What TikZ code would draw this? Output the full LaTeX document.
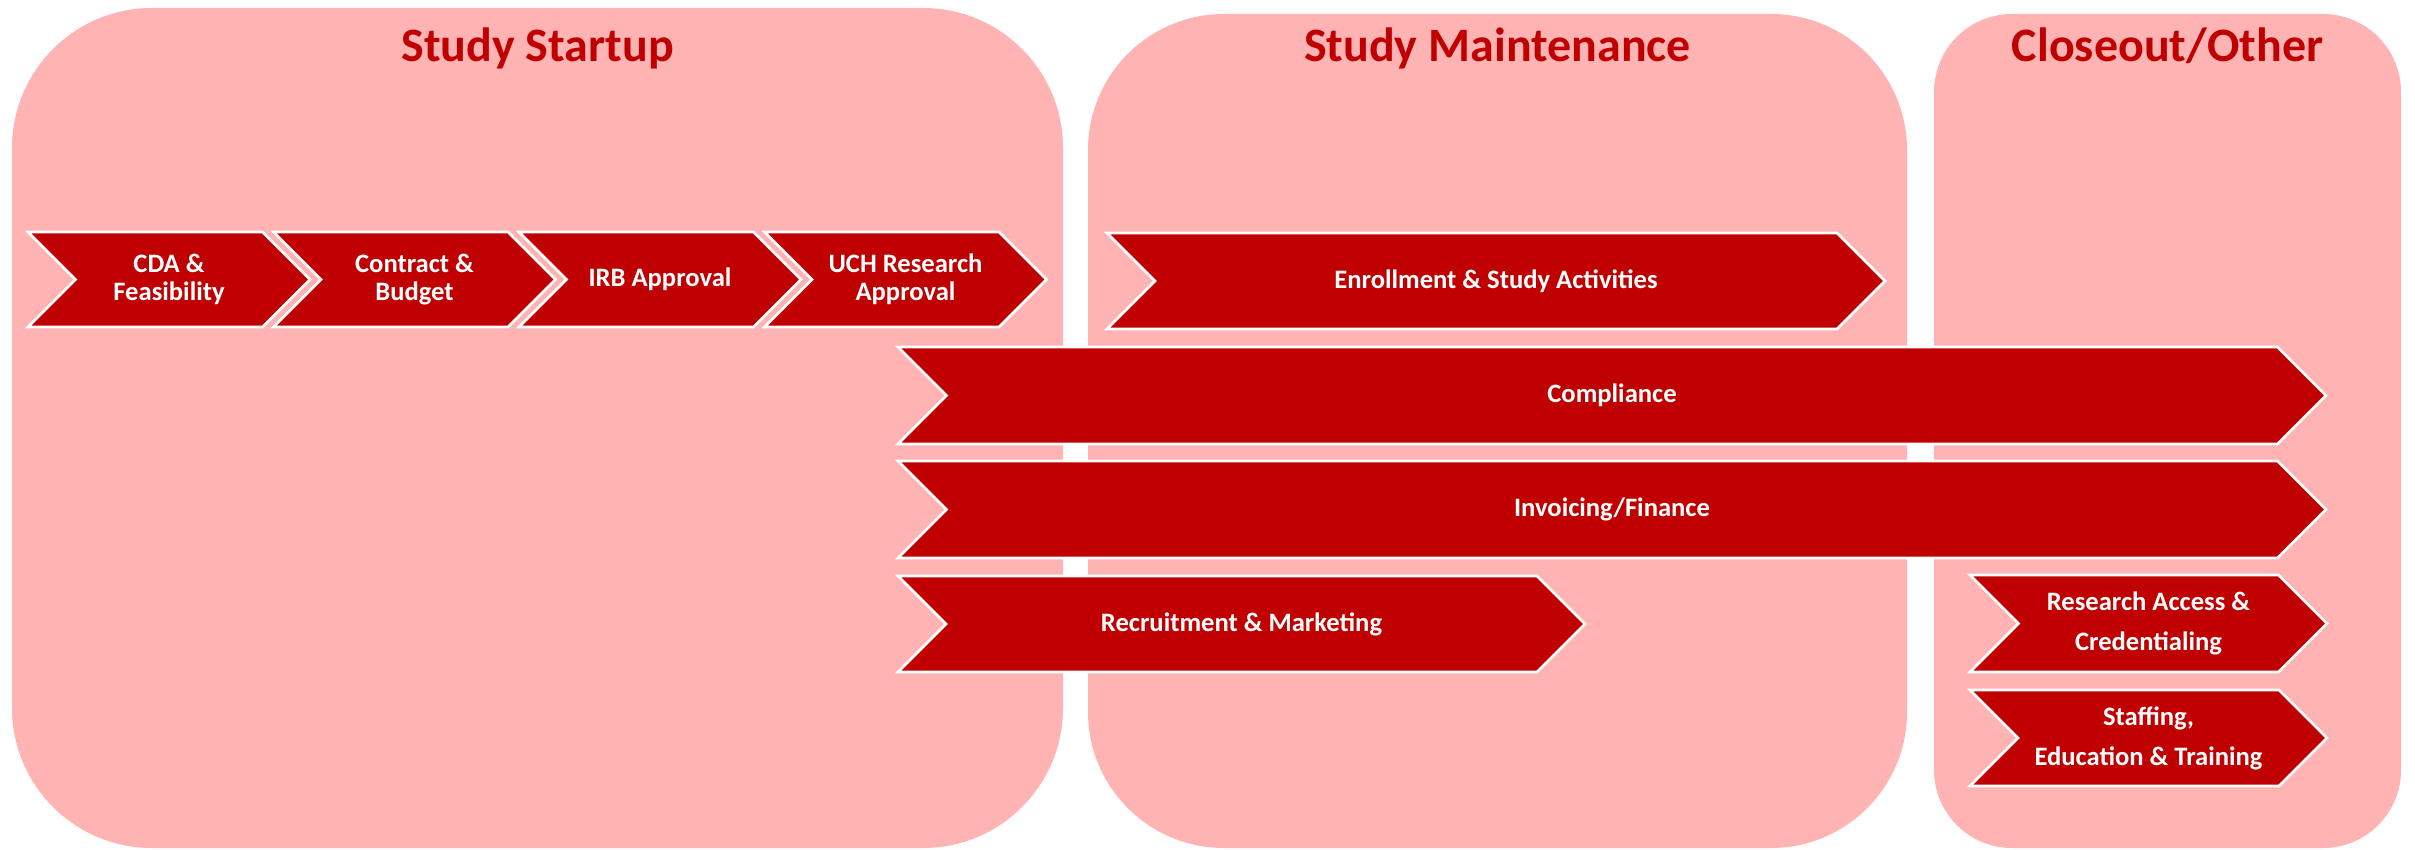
\documentclass[tikz,border=0pt]{standalone}
\usepackage{fontspec}
\setmainfont{Carlito}
\definecolor{chevred}{HTML}{C00000}
\definecolor{panelpink}{HTML}{FFB3B3}
\tikzset{
  panel/.style={fill=panelpink},
  paneltitle/.style={text=chevred, font=\fontsize{24}{28}\selectfont\bfseries, anchor=base, inner sep=0pt},
  chevshape/.style={fill=chevred, draw=white, line width=1.3pt, line join=miter},
  chevtext/.style={text=white, align=center, inner sep=0pt, font=\fontsize{13.3}{14}\selectfont\bfseries},
  chevtextwide/.style={chevtext, font=\fontsize{13.3}{20}\selectfont\bfseries},
}
\newcommand{\mychev}[7]{% x0,y0,x1,y1,name,textstyle,text
  \pgfmathsetmacro\mychevd{(#4-#2)/2}
  \pgfmathsetmacro\mychevm{(#2+#4)/2}
  \filldraw[chevshape] (#1,#2) -- ({#3-\mychevd},#2) -- (#3,\mychevm) -- ({#3-\mychevd},#4) -- (#1,#4) -- ({#1+\mychevd},\mychevm) -- cycle;
  \node[#6] (#5) at ({(#1+#3)/2},\mychevm) {#7};
}
\begin{document}
\begin{tikzpicture}[x=0.5pt,y=-0.5pt]
\useasboundingbox (0,0) rectangle (2415,850);
\fill[white] (0,0) rectangle (2415,850);
% panels
\fill[panel, rounded corners=70pt] (12,8) rectangle (1063,848);
\fill[panel, rounded corners=68pt] (1088,14) rectangle (1907,848);
\fill[panel, rounded corners=39pt] (1934,14) rectangle (2401,848);
\node[paneltitle] (t1) at (537.5,62) {Study Startup};
\node[paneltitle] (t2) at (1497.5,62) {Study Maintenance};
\node[paneltitle] (t3) at (2167.5,62) {Closeout/Other};
% row 1
\mychev{28}{232}{310}{327}{cda}{chevtext}{CDA \&\\Feasibility}
\mychev{273.5}{232}{555.5}{327}{contract}{chevtext}{Contract \&\\Budget}
\mychev{519}{232}{801}{327}{irb}{chevtext}{IRB Approval}
\mychev{764.5}{232}{1046.5}{327}{uch}{chevtext}{UCH Research\\Approval}
\mychev{1107}{233}{1885}{329}{enroll}{chevtext}{Enrollment \& Study Activities}
% long rows
\mychev{898}{347}{2326}{444}{compliance}{chevtext}{Compliance}
\mychev{898}{461}{2326}{558}{invoicing}{chevtext}{Invoicing/Finance}
\mychev{898}{576}{1585}{672}{recruit}{chevtext}{Recruitment \& Marketing}
% closeout
\mychev{1970}{575}{2327}{672}{access}{chevtextwide}{Research Access \&\\Credentialing}
\mychev{1970}{690}{2327}{786}{staffing}{chevtextwide}{Staffing,\\Education \& Training}
\end{tikzpicture}
\end{document}
